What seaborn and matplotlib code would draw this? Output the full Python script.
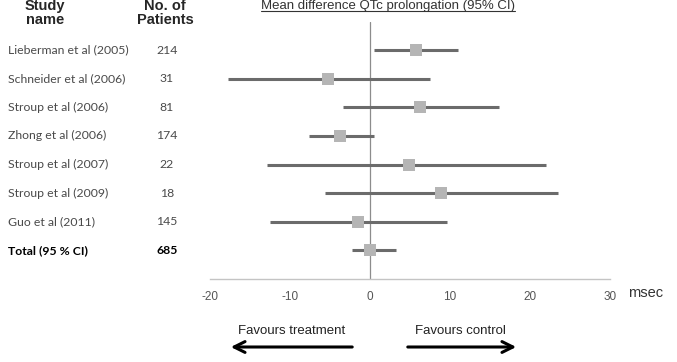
import matplotlib
matplotlib.use("Agg")
import matplotlib.pyplot as plt
import matplotlib.transforms as mtransforms
from matplotlib.patches import FancyArrowPatch
import seaborn as sns
import pandas as pd

# data
studies = ["Lieberman et al (2005)", "Schneider et al (2006)", "Stroup et al (2006)",
           "Zhong et al (2006)", "Stroup et al (2007)", "Stroup et al (2009)",
           "Guo et al (2011)", "Total (95 % CI)"]
patients = [214, 31, 81, 174, 22, 18, 145, 685]
mean_diff = [5.7, -5.3, 6.3, -3.8, 4.9, 8.9, -1.5, 0.0]
ci_low = [0.5, -17.8, -3.4, -7.6, -12.9, -5.6, -12.5, -2.2]
ci_high = [11.0, 7.5, 16.1, 0.5, 22.0, 23.5, 9.6, 3.3]
x_ticks = [-20, -10, 0, 10, 20, 30]

df = pd.DataFrame({"study": studies, "n": patients, "md": mean_diff,
                   "lo": ci_low, "hi": ci_high})
df["row"] = range(len(df))

sns.set_style("white")
plt.rcParams["font.family"] = ["Liberation Sans", "DejaVu Sans"]

W, H = 677, 362
fig = plt.figure(figsize=(W / 100, H / 100), dpi=100)

def fx(px):
    return px / W

def fy(py):
    return 1 - py / H

# axes placed so x=-20 sits at px 210 and x=30 at px 610
ax = fig.add_axes([fx(210), fy(279), fx(400), fy(22) - fy(279)])
ax.set_xlim(-20, 30)
ax.set_ylim(8.0, -0.98)

ax.axvline(0, color="#8c8c8c", lw=0.9, zorder=1)
ax.hlines(df["row"], df["lo"], df["hi"], color="#6b6b6b", lw=2.2, zorder=2)
sns.scatterplot(data=df, x="md", y="row", marker="s", s=70, color="#b5b5b5",
                edgecolor="#b5b5b5", linewidth=0, zorder=3, ax=ax, legend=False)

for s in ["top", "right", "left"]:
    ax.spines[s].set_visible(False)
ax.spines["bottom"].set_color("#c4c4c4")
ax.spines["bottom"].set_linewidth(1.0)
ax.set_xticks(x_ticks)
ax.set_xticklabels([str(t) for t in x_ticks])
ax.tick_params(axis="x", direction="in", length=4, color="#c4c4c4",
               labelsize=8.5, labelcolor="#555555", pad=9)
ax.set_yticks([])
ax.set_xlabel("")
ax.set_ylabel("")

# row labels outside the axes: x in figure fraction, y in data units
blend = mtransforms.blended_transform_factory(fig.transFigure, ax.transData)
for i, (name, n) in enumerate(zip(studies, patients)):
    bold = i == len(studies) - 1
    col = "black" if bold else "#4a4a4a"
    wt = "bold" if bold else "normal"
    ax.text(fx(8), i, name, transform=blend, fontsize=8.8, va="center",
            ha="left", color=col, fontweight=wt, family=["Lato", "DejaVu Sans"])
    ax.text(fx(167), i, str(n), transform=blend, fontsize=8.8, va="center",
            ha="center", color=col, fontweight=wt, family=["Lato", "DejaVu Sans"])

# headers
fig.text(fx(45), fy(13), "Study\nname", ha="center", va="center",
         fontsize=10.5, fontweight="bold", linespacing=1.05)
fig.text(fx(165), fy(13), "No. of\nPatients", ha="center", va="center",
         fontsize=10.5, fontweight="bold", linespacing=1.05)
title = fig.text(fx(388), fy(6), "Mean difference QTc prolongation (95% CI)",
                 ha="center", va="center", fontsize=9.5, color="#333333")

fig.canvas.draw()
bb = title.get_window_extent().transformed(fig.transFigure.inverted())
fig.add_artist(plt.Line2D([bb.x0, bb.x1], [bb.y0 + 0.002, bb.y0 + 0.002],
                          transform=fig.transFigure, color="#333333", lw=0.8))

fig.text(fx(628), fy(293), "msec", ha="left", va="center", fontsize=10.5,
         color="#333333")

# direction arrows
fig.text(fx(292), fy(331), "Favours treatment", ha="center", va="center",
         fontsize=9.5, color="#222222")
fig.text(fx(460), fy(331), "Favours control", ha="center", va="center",
         fontsize=9.5, color="#222222")
for start, end in [(355, 228), (405, 519)]:
    fig.add_artist(FancyArrowPatch(
        (fx(start), fy(347)), (fx(end), fy(347)), transform=fig.transFigure,
        arrowstyle="->,head_length=6,head_width=3", mutation_scale=1.3,
        color="black", lw=2.2))

fig.savefig("out.png", dpi=100)
